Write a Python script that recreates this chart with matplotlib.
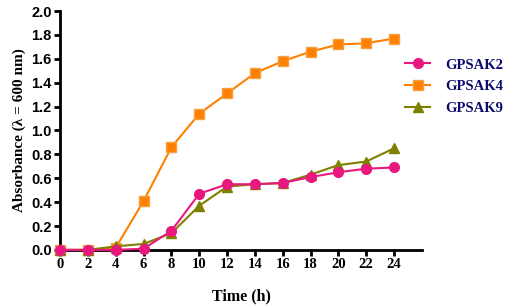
import matplotlib.pyplot as plt

hours = [0, 2, 4, 6, 8, 10, 12, 14, 16, 18, 20, 22, 24]
gpsak2 = [0.0, 0.0, 0.0, 0.01, 0.16, 0.47, 0.55, 0.55, 0.56, 0.61, 0.65, 0.68, 0.69]
gpsak4 = [0.0, 0.0, 0.02, 0.41, 0.86, 1.14, 1.31, 1.48, 1.58, 1.66, 1.72, 1.73, 1.77]
gpsak9 = [0.0, 0.0, 0.03, 0.05, 0.14, 0.37, 0.53, 0.55, 0.56, 0.63, 0.71, 0.74, 0.85]
y_ticks = [0.0, 0.2, 0.4, 0.6, 0.8, 1.0, 1.2, 1.4, 1.6, 1.8, 2.0]

fig = plt.figure(figsize=(5.1, 3.07), dpi=100)
ax = fig.add_axes([0.118, 0.186, 0.709, 0.778])

l4, = ax.plot(hours, gpsak4, color='#FF8000', lw=1.5, marker='s', ms=6.5,
              mec='#F5A040', mfc='#FF8000', clip_on=False, zorder=3)
l9, = ax.plot(hours, gpsak9, color='#7F7F00', lw=1.5, marker='^', ms=7,
              mfc='#7F7F00', mec='#7F7F00', clip_on=False, zorder=4)
l2, = ax.plot(hours, gpsak2, color='#E8187F', lw=1.5, marker='o', ms=7,
              mfc='#E8187F', mec='#E8187F', clip_on=False, zorder=5)

ax.set_xlim(0, 26)
ax.set_ylim(0, 2.0)
ax.set_xticks(hours)
ax.set_yticks(y_ticks)
ax.set_yticklabels([f'{v:.1f}' for v in y_ticks], fontfamily='Liberation Sans',
                   fontweight='bold', fontsize=10.5)
ax.set_xticklabels([str(h) for h in hours], fontfamily='Liberation Serif',
                   fontweight='bold', fontsize=10.5)

for side in ['top', 'right']:
    ax.spines[side].set_visible(False)
for side in ['left', 'bottom']:
    ax.spines[side].set_linewidth(2)
ax.tick_params(direction='out', length=4, width=2, pad=2)

ax.set_xlabel('Time (h)', fontfamily='Liberation Serif', fontweight='bold',
              fontsize=11.5, labelpad=12)
ax.set_ylabel('Absorbance (λ = 600 nm)', fontfamily='Liberation Serif',
              fontweight='bold', fontsize=11, labelpad=4)

leg = fig.legend([l2, l4, l9], ['GPSAK2', 'GPSAK4', 'GPSAK9'],
                 loc='upper left', bbox_to_anchor=(0.795, 0.81), frameon=False,
                 borderpad=0, borderaxespad=0,
                 handlelength=1.7, handletextpad=1.05, labelspacing=0.6,
                 prop={'family': 'Liberation Serif', 'weight': 'bold', 'size': 10.5})
for t in leg.get_texts():
    t.set_color('#0B0B6B')

fig.savefig('out.png', dpi=100)
